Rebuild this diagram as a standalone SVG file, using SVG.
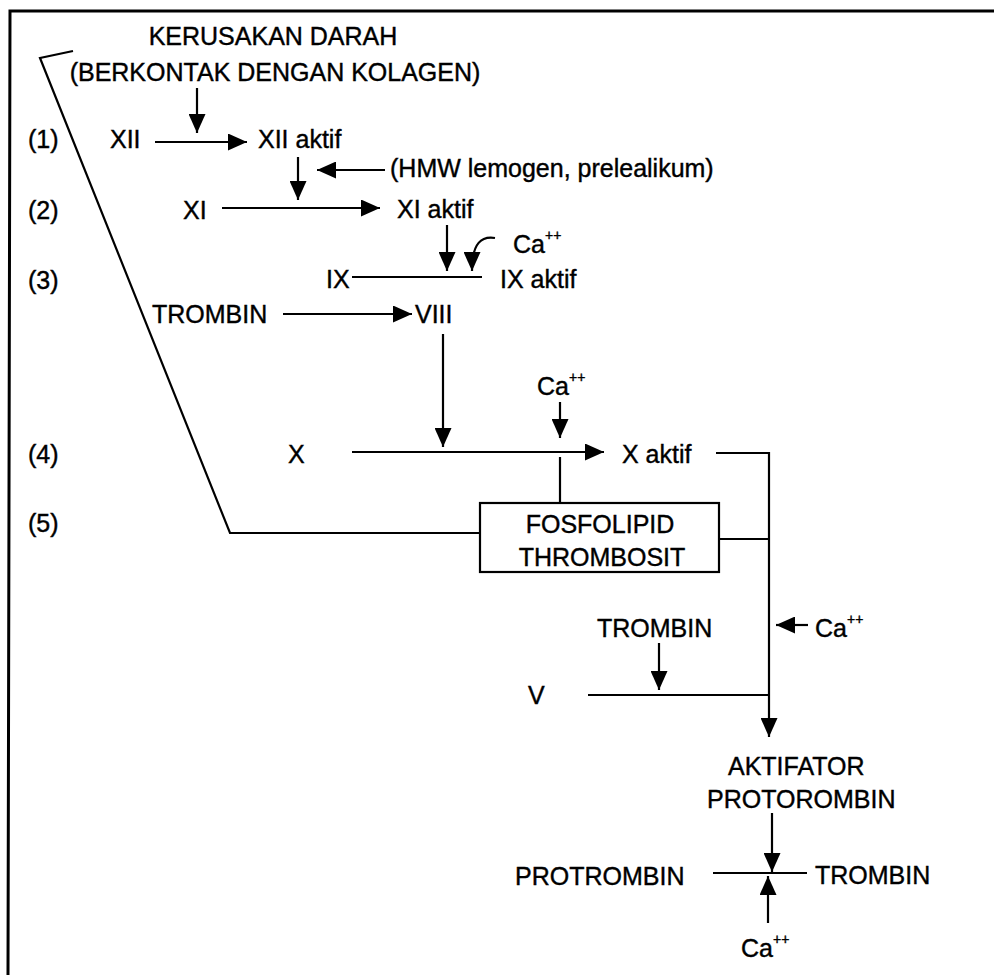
<svg xmlns="http://www.w3.org/2000/svg" width="994" height="975" viewBox="0 0 994 975">
<style>
text{font-family:"Liberation Sans",Arial,sans-serif;font-size:25px;fill:#000;stroke:#000;stroke-width:0.4}
.sup{font-size:14px}
.ln{stroke:#000;stroke-width:2.2;fill:none}
.ar{stroke:#000;stroke-width:2.2;fill:none;marker-end:url(#ah)}
.fr{stroke:#000;stroke-width:3;fill:none}
</style>
<defs>
<marker id="ah" viewBox="0 0 19 17" markerWidth="19" markerHeight="17" refX="19" refY="8.5" orient="auto" markerUnits="userSpaceOnUse">
<path d="M0,0 L19,8.5 L0,17 z" fill="#000"/>
</marker>
</defs>
<rect width="994" height="975" fill="#fff"/>
<g id="frame">
<polyline class="fr" points="994,11 10,11 8,975"/>
</g>
<g id="connectors">
<polyline class="ln" points="73,51 40,58 230,533 480,533"/>
<line class="ar" x1="197" y1="88" x2="197" y2="133"/>
<line class="ar" x1="155" y1="142" x2="247" y2="142"/>
<line class="ar" x1="298" y1="157" x2="298" y2="200"/>
<line class="ar" x1="385" y1="170" x2="317" y2="170"/>
<line class="ar" x1="222" y1="208" x2="380" y2="208"/>
<line class="ar" x1="447" y1="225" x2="447" y2="271"/>
<path class="ar" d="M495,238 C482,236 472,242 472,271"/>
<line class="ln" x1="352" y1="277" x2="482" y2="277"/>
<line class="ar" x1="283" y1="314" x2="412" y2="314"/>
<line class="ar" x1="443" y1="334" x2="443" y2="447"/>
<line class="ar" x1="560" y1="402" x2="560" y2="438"/>
<line class="ar" x1="352" y1="452" x2="604" y2="452"/>
<line class="ln" x1="560" y1="457" x2="560" y2="503"/>
<line class="ln" x1="719" y1="539" x2="769" y2="539"/>
<polyline class="ar" points="716,453 769,453 769,737"/>
<line class="ar" x1="808" y1="625" x2="776" y2="625"/>
<line class="ar" x1="659" y1="643" x2="659" y2="690"/>
<line class="ln" x1="588" y1="695" x2="769" y2="695"/>
<line class="ar" x1="772" y1="813" x2="772" y2="872"/>
<line class="ln" x1="713" y1="873" x2="807" y2="873"/>
<line class="ar" x1="768" y1="923" x2="768" y2="876"/>
</g>
<g id="n-kerusakan"><text x="273" y="45" text-anchor="middle">KERUSAKAN DARAH</text><text x="275" y="81" text-anchor="middle">(BERKONTAK DENGAN KOLAGEN)</text></g>
<g id="n-step1"><text x="28" y="148">(1)</text></g>
<g id="n-xii"><text x="110" y="148">XII</text></g>
<g id="n-xii-aktif"><text x="258" y="148">XII aktif</text></g>
<g id="n-hmw"><text x="390" y="177">(HMW lemogen, prelealikum)</text></g>
<g id="n-step2"><text x="28" y="219">(2)</text></g>
<g id="n-xi"><text x="183" y="219">XI</text></g>
<g id="n-xi-aktif"><text x="397" y="218">XI aktif</text></g>
<g id="n-ca1"><text x="513" y="253">Ca<tspan class="sup" dy="-13">++</tspan></text></g>
<g id="n-step3"><text x="28" y="289">(3)</text></g>
<g id="n-ix"><text x="326" y="288">IX</text></g>
<g id="n-ix-aktif"><text x="500" y="288">IX aktif</text></g>
<g id="n-trombin1"><text x="152" y="323">TROMBIN</text></g>
<g id="n-viii"><text x="415" y="323">VIII</text></g>
<g id="n-ca2"><text x="537" y="395">Ca<tspan class="sup" dy="-13">++</tspan></text></g>
<g id="n-step4"><text x="28" y="463">(4)</text></g>
<g id="n-x"><text x="288" y="463">X</text></g>
<g id="n-x-aktif"><text x="622" y="463">X aktif</text></g>
<g id="n-step5"><text x="28" y="532">(5)</text></g>
<g id="n-fosfolipid"><rect x="480" y="503" width="239" height="69" fill="#fff" stroke="#000" stroke-width="2.2"/><text x="600" y="533" text-anchor="middle">FOSFOLIPID</text><text x="602" y="566" text-anchor="middle" font-size="24">THROMBOSIT</text></g>
<g id="n-trombin2"><text x="597" y="637">TROMBIN</text></g>
<g id="n-ca3"><text x="815" y="637">Ca<tspan class="sup" dy="-13">++</tspan></text></g>
<g id="n-v"><text x="528" y="704">V</text></g>
<g id="n-aktifator"><text x="728" y="775">AKTIFATOR</text><text x="707" y="808">PROTOROMBIN</text></g>
<g id="n-protrombin"><text x="515" y="885">PROTROMBIN</text></g>
<g id="n-trombin3"><text x="815" y="884">TROMBIN</text></g>
<g id="n-ca4"><text x="741" y="957">Ca<tspan class="sup" dy="-13">++</tspan></text></g>
</svg>
